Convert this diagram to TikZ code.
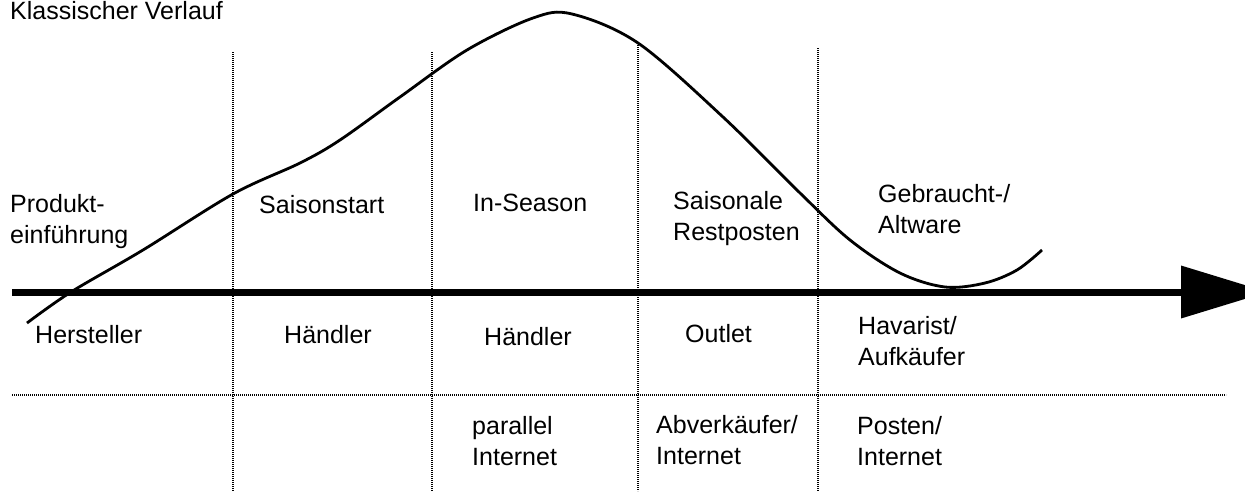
\documentclass[tikz,border=0pt]{standalone}
\usepackage{fontspec}
\setmainfont{Liberation Sans}
\usetikzlibrary{arrows.meta}
\begin{document}
\begin{tikzpicture}[x=1pt,y=-1pt,
  lbl/.style={font=\fontsize{25}{31}\selectfont,inner sep=0pt,anchor=base west,align=left},
  divider/.style={line width=2.6pt,black,dash pattern=on 1.3pt off 0.7pt},
  axis/.style={line width=7pt,-{Triangle[length=87pt,width=51pt]}},
  curve/.style={line width=2.8pt,line join=round}]
\useasboundingbox (0,0) rectangle (1245,491);
% phases
\draw[divider] (233,52) -- (233,491);
\draw[divider] (432,52) -- (432,491);
\draw[divider] (638,43) -- (638,491);
\draw[divider] (818,48) -- (818,491);
\draw[divider,line width=2pt] (12,395) -- (1226,395);
% time axis
\draw[axis] (12,292) -- (1268,292);
% classic course
\draw[curve] plot[smooth,tension=0.55] coordinates {(27,323) (71,292) (143,250) (233,194) (300,163) (340,140)
  (400,97) (467,50) (533,18) (572,14) (638,43) (723,117) (800,193) (850,240) (900,273) (945,287) (985,283) (1017,270) (1042,250)};
\node[lbl] (title) at (10,19) {Klassischer Verlauf};
% phase names
\node[lbl] (produkt) at (10,243) {Produkt-\\einführung};
\node[lbl] (saisonstart) at (259,213) {Saisonstart};
\node[lbl] (inseason) at (473,211) {In-Season};
\node[lbl] (restposten) at (673,240) {Saisonale\\Restposten};
\node[lbl] (altware) at (878,233) {Gebraucht-/\\Altware};
% sellers
\node[lbl] (hersteller) at (35,343) {Hersteller};
\node[lbl] (haendlerA) at (284,343) {Händler};
\node[lbl] (haendlerB) at (484,345) {Händler};
\node[lbl] (outlet) at (685,342) {Outlet};
\node[lbl] (havarist) at (858,365) {Havarist/\\Aufkäufer};
% channels
\node[lbl] (parallel) at (472,465) {parallel\\Internet};
\node[lbl] (abverk) at (656,464) {Abverkäufer/\\Internet};
\node[lbl] (posten) at (857,465) {Posten/\\Internet};
\end{tikzpicture}
\end{document}
